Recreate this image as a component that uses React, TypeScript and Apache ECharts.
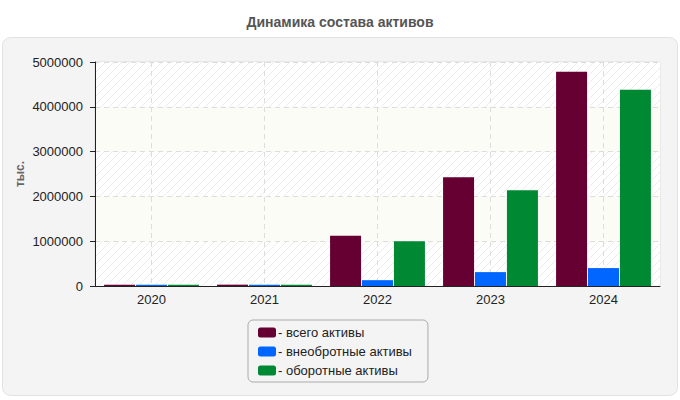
import React, { useEffect, useRef } from "react";
import * as echarts from "echarts";

const categories = ["2020", "2021", "2022", "2023", "2024"];
const totalAssets = [30000, 30000, 1120000, 2430000, 4780000];
const nonCurrentAssets = [28000, 28000, 130000, 310000, 400000];
const currentAssets = [28000, 28000, 1000000, 2140000, 4380000];
const seriesNames = ["всего активы", "внеобротные активы", "оборотные активы"];
const colors = ["#660033", "#0066ff", "#008833"];

function makeHatch(): string {
  const c = document.createElement("canvas");
  c.width = 8;
  c.height = 8;
  const ctx = c.getContext("2d")!;
  ctx.fillStyle = "#ffffff";
  ctx.fillRect(0, 0, 8, 8);
  ctx.strokeStyle = "#ececec";
  ctx.lineWidth = 1;
  ctx.beginPath();
  ctx.moveTo(0, 8);
  ctx.lineTo(8, 0);
  ctx.moveTo(-4, 4);
  ctx.lineTo(4, -4);
  ctx.moveTo(4, 12);
  ctx.lineTo(12, 4);
  ctx.stroke();
  return c.toDataURL();
}

const FONT = "Arial, 'Liberation Sans', sans-serif";

export default function App() {
  const ref = useRef<HTMLDivElement>(null);
  useEffect(() => {
    const chart = echarts.init(ref.current!, null, { renderer: "svg" });
    const hatch = { image: makeHatch(), repeat: "repeat" } as any;
    const data = [totalAssets, nonCurrentAssets, currentAssets];
    chart.setOption({
      animation: false,
      backgroundColor: "#ffffff",
      title: {
        text: "Динамика состава активов",
        left: "center",
        top: 10,
        textStyle: { fontFamily: FONT, fontSize: 14, fontWeight: "bold", color: "#555555" },
      },
      graphic: [
        {
          type: "rect",
          shape: { x: 2.5, y: 37.5, width: 675, height: 358, r: 8 },
          style: { fill: "#f4f4f4", stroke: "#e2e2e2", lineWidth: 1 },
          z: -10,
          silent: true,
        },
        {
          type: "text",
          x: 20,
          y: 174,
          rotation: Math.PI / 2,
          style: {
            text: "тыс.",
            fill: "#666666",
            font: "bold 12px Arial, 'Liberation Sans', sans-serif",
            align: "center",
            verticalAlign: "middle",
          },
        },
      ],
      legend: {
        orient: "vertical",
        left: 248,
        top: 320,
        padding: [6, 16, 5, 10],
        itemGap: 6,
        itemWidth: 18,
        itemHeight: 10,
        icon: "roundRect",
        backgroundColor: "#f4f4f4",
        borderColor: "#aaaaaa",
        borderWidth: 1,
        borderRadius: 5,
        data: seriesNames,
        formatter: (n: string) => "- " + n,
        textStyle: { fontFamily: FONT, fontSize: 13, color: "#222222", padding: [0, 0, 0, -3] },
      },
      grid: {
        left: 95,
        right: 20,
        top: 62,
        bottom: 114,
        show: true,
        borderColor: "#dddddd",
        borderWidth: 1,
        backgroundColor: "transparent",
      },
      xAxis: {
        type: "category",
        data: categories,
        axisLine: { lineStyle: { color: "#222222" } },
        axisTick: { alignWithLabel: true, length: 5, lineStyle: { color: "#222222" } },
        axisLabel: { color: "#222222", fontSize: 13, fontFamily: FONT, margin: 7 },
        splitLine: { show: true, alignWithLabel: true, lineStyle: { color: "#dddddd", type: [5, 4] } } as any,
      },
      yAxis: {
        type: "value",
        min: 0,
        max: 5000000,
        interval: 1000000,
        axisLine: { show: true, lineStyle: { color: "#222222" } },
        axisTick: { show: true, length: 5, lineStyle: { color: "#222222" } },
        axisLabel: { color: "#222222", fontSize: 13, fontFamily: FONT, margin: 12, formatter: (v: number) => String(v) },
        splitLine: { show: true, lineStyle: { color: "#dddddd", type: [5, 4] } },
        splitArea: { show: true, areaStyle: { color: [hatch, "#fcfcf6"] } },
      },
      series: seriesNames.map((name, i) => ({
        name,
        type: "bar",
        data: data[i],
        barWidth: 31,
        barGap: "3%",
        itemStyle: { color: colors[i] },
      })),
    });
    return () => chart.dispose();
  }, []);
  return <div ref={ref} style={{ position: "fixed", left: 0, top: 0, width: 680, height: 400 }} />;
}
